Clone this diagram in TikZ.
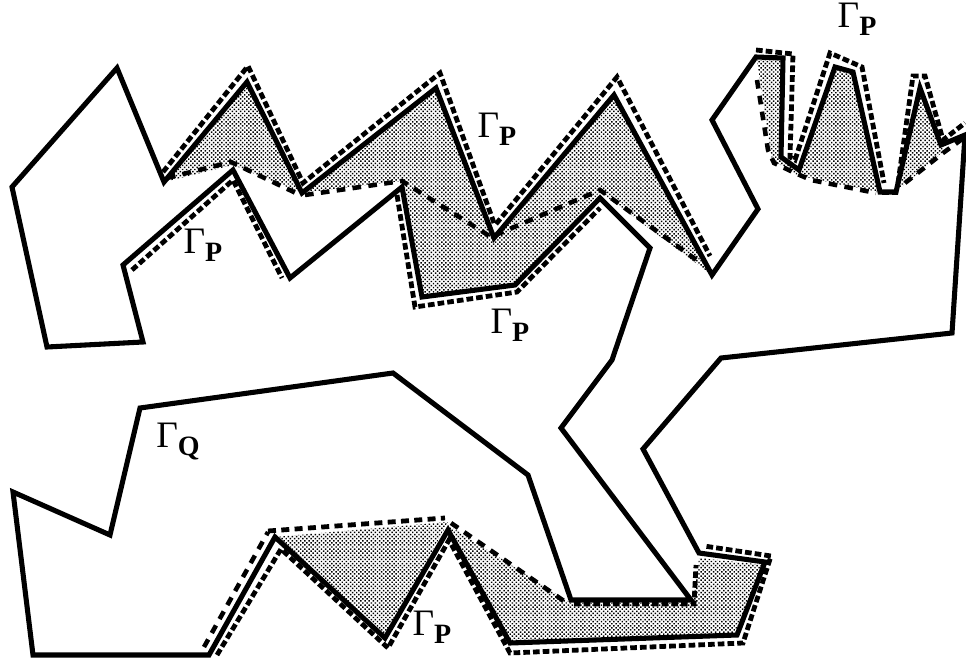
\documentclass[tikz,border=0pt]{standalone}
\usepackage{fontspec}
\setmainfont{Liberation Serif}
\usetikzlibrary{patterns.meta}
\tikzstyle{outline} = [line width=3.8pt, line join=miter, black]
\tikzstyle{shaded} = [pattern={Dots[radius=0.78pt, distance=2.2pt, angle=45]}, pattern color=black]
\tikzstyle{outer} = [line width=3.6pt, dash pattern=on 5pt off 2.3pt, black]
\tikzstyle{inner} = [line width=3.4pt, dash pattern=on 6.5pt off 5.5pt, black]
\tikzstyle{lbl} = [inner sep=0pt, font=\fontsize{28}{28}\selectfont]
\newcommand{\gsub}[1]{Γ\raisebox{-6pt}{\fontsize{21}{21}\selectfont\textbf{#1}}}

\begin{document}
\begin{tikzpicture}[x=0.75pt, y=-0.75pt]
\useasboundingbox (0,0) rectangle (966,659);

% Shaded regions
\fill[shaded] (164,182) -- (247,82) -- (302,193) -- (233,165) -- cycle;
\fill[shaded] (302,193) -- (436,88) -- (494,238) -- (614,95) -- (712,275) -- (600,192) -- (515,285) -- (422,297) -- (402,181) -- cycle;
\fill[shaded] (757,60) -- (783,60) -- (781,157) -- (799,170) -- (835,67) -- (853,72) -- (880,192) -- (842,185) -- (797,175) -- (772,160) -- cycle;
\fill[shaded] (896,192) -- (920,88) -- (941,145) -- (945,150) -- cycle;
\fill[shaded] (275,537) -- (448,522) -- (385,638) -- cycle;
\fill[shaded] (448,525) -- (571,603) -- (693,603) -- (699,558) -- (765,565) -- (737,635) -- (510,643) -- cycle;

% Outer boundary
\draw[outline] (12,187) -- (117,68) -- (164,182) -- (247,82) -- (302,193) -- (436,88) -- (494,238) -- (614,95)
  -- (712,275) -- (758,209) -- (712,120) -- (756,57) -- (783,58) -- (781,157) -- (799,170) -- (835,67) -- (853,72)
  -- (880,192) -- (896,192) -- (920,88) -- (941,145) -- (965,135) -- (952,333) -- (721,358) -- (643,449) -- (699,553)
  -- (765,562) -- (737,635) -- (510,643) -- (448,530) -- (385,638) -- (275,537) -- (209,655) -- (33,655) -- (13,492)
  -- (110,535) -- (140,408) -- (393,373) -- (528,475) -- (571,600) -- (691,600) -- (561,428) -- (612,360) -- (650,248)
  -- (600,198) -- (515,285) -- (422,297) -- (402,187) -- (290,278) -- (233,170) -- (123,265) -- (143,342) -- (47,347) -- cycle;

% Dashed, upper chain
\draw[outer] (163,172) -- (248,66) -- (303,183) -- (440,73) -- (494,223);
\draw[outer] (496,224) -- (617,77) -- (710,256);
\draw[outer] (132,270) -- (233,180) -- (282,278);
\draw[outer] (397,195) -- (415,307) -- (517,292) -- (600,208);
\draw[inner] (167,178) -- (231,162) -- (300,195);
\draw[inner] (305,195) -- (402,181) -- (491,237) -- (600,190) -- (702,264);

% Dashed, top right
\draw[outer] (756,50) -- (793,54) -- (790,157) -- (795,160) -- (830,53) -- (862,67) -- (884,183);
\draw[outer] (882,193) -- (898,193);
\draw[outer] (898,183) -- (913,76) -- (925,76) -- (943,140) -- (965,123);
\draw[inner] (757,80) -- (768,150) -- (774,163) -- (795,173) -- (811,180) -- (876,193);
\draw[inner] (905,183) -- (943,153) -- (965,137);

% Dashed, bottom
\draw[outer] (217,655) -- (281,549) -- (388,648) -- (449,540) -- (510,653) -- (743,643) -- (771,556) -- (704,546);
\draw[inner] (204,647) -- (268,532);
\draw[outer, dash pattern=on 6pt off 4pt] (268,531) -- (445,518);
\draw[inner] (451,523) -- (564,601);
\draw[outer] (574,604) -- (694,604) -- (696,565);

% Labels
\node[lbl] (gpa) at (203,245) {\gsub{P}};
\node[lbl] (gpb) at (497,129) {\gsub{P}};
\node[lbl] (gpc) at (857,19) {\gsub{P}};
\node[lbl] (gpd) at (510,325) {\gsub{P}};
\node[lbl] (gpe) at (432,627) {\gsub{P}};
\node[lbl] (gq) at (178,442) {\gsub{Q}};
\end{tikzpicture}
\end{document}
